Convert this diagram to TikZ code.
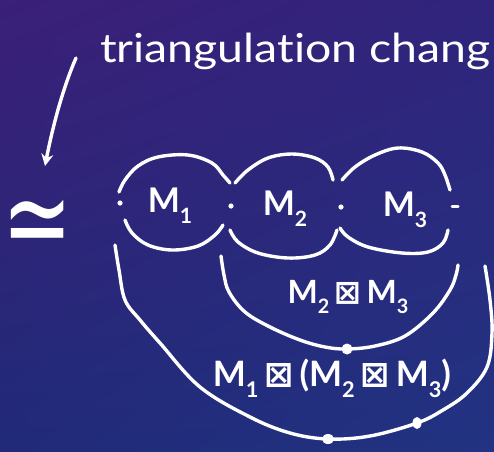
\documentclass[tikz,border=0pt]{standalone}
\usepackage{fontspec}
\setmainfont{Lato}[Ligatures=NoCommon]
\newfontfamily\symfont{DejaVu Sans}
\usetikzlibrary{arrows.meta,shadings}
\newcommand\mysub[1]{\raisebox{-0.32em}{\scalebox{0.62}{#1}}}
\newcommand\bx{{\symfont ⊠}}
\definecolor{bgTL}{HTML}{3B1F78}
\definecolor{bgTR}{HTML}{30247C}
\definecolor{bgBL}{HTML}{202A78}
\definecolor{bgBR}{HTML}{213382}
\begin{document}
\begin{tikzpicture}[x=1pt,y=-1pt,
  ink/.style={draw=white, line width=3.4pt, line cap=round, line join=round},
  lbl/.style={text=white, inner sep=0pt}]
\useasboundingbox (0,0) rectangle (494,451);
\shade[upper left=bgTL, upper right=bgTR, lower left=bgBL, lower right=bgBR] (0,0) rectangle (494,451);

% title
\node[lbl, anchor=base west, xscale=1.16, font=\fontsize{40}{40}\selectfont] (title) at (100,62) {triangulation chang};

% approx symbol
\node[lbl, xscale=1.35, yscale=1.9, font=\symfont\fontsize{62}{62}\selectfont] (approx) at (38,229) {≃};

% arrow
\coordinate (arrS) at (76,58);
\coordinate (arrE) at (45,166);
\draw[ink, -{Stealth[length=12pt,width=12pt]}] (arrS) .. controls (62,90) and (52,130) .. (arrE);

% bubble labels
\node[lbl, font=\bfseries\fontsize{34}{34}\selectfont] (m1) at (170,206) {M\mysub{1}};
\node[lbl, font=\bfseries\fontsize{34}{34}\selectfont] (m2) at (285,209) {M\mysub{2}};
\node[lbl, font=\bfseries\fontsize{34}{34}\selectfont] (m3) at (405,210) {M\mysub{3}};

% dots between bubbles
\coordinate (d1) at (120,203);
\coordinate (d2) at (231,206);
\coordinate (d3) at (341,207);
\coordinate (d4) at (455,206);
\foreach \d in {d1,d2,d3} \fill[white] (\d) circle (2.6pt);
\draw[ink, line width=3pt] ([xshift=-3pt]d4) -- ([xshift=3pt]d4);

% bubble 1
\draw[ink] plot[smooth, tension=0.6] coordinates {(119,192) (125,180) (138,166) (158,157) (188,155) (212,163) (223,175) (230,183)};
\draw[ink] plot[smooth, tension=0.6] coordinates {(125,220) (132,233) (148,245) (172,250) (198,246) (215,235) (223,225)};
% bubble 2
\draw[ink] plot[smooth, tension=0.6] coordinates {(235,183) (248,170) (268,158) (292,154) (315,158) (328,167) (333,180)};
\draw[ink] plot[smooth, tension=0.6] coordinates {(230,230) (238,242) (258,253) (288,258) (315,255) (330,245) (337,230)};
% bubble 3
\draw[ink] plot[smooth, tension=0.6] coordinates {(342,180) (355,167) (375,155) (398,148) (422,152) (438,163) (445,175) (450,190)};
\draw[ink] plot[smooth, tension=0.6] coordinates {(340,228) (348,237) (368,247) (402,253) (428,252) (443,243) (448,230)};

% middle arc
\coordinate (b1) at (347,349);
\draw[ink] plot[smooth, tension=0.6] coordinates {(221,256) (224,275) (229,292) (245,312) (270,327) (300,340) (325,347) (b1) (375,346) (405,336) (433,313) (450,290) (456,275) (458,265)};
\fill[white] (b1) circle (5.5pt);
\node[lbl, font=\bfseries\fontsize{32}{32}\selectfont] (l23) at (348,297) {M\mysub{2}\,\bx\,M\mysub{3}};

% outer arc
\coordinate (b2) at (328,439);
\coordinate (b3) at (417,423);
\draw[ink] plot[smooth, tension=0.6] coordinates {(115,245) (119,270) (125,300) (140,320) (160,343) (200,387) (250,417) (290,433) (b2) (370,436) (b3) (443,410) (467,393) (487,367) (492,333) (490,300) (485,266)};
\fill[white] (b2) ellipse (6pt and 5pt);
\fill[white] (b3) ellipse (4.5pt and 6pt);
\node[lbl, font=\bfseries\fontsize{35}{35}\selectfont] (l123) at (332,378) {M\mysub{1}\,\bx\,(M\mysub{2}\,\bx\,M\mysub{3})};
\end{tikzpicture}
\end{document}
